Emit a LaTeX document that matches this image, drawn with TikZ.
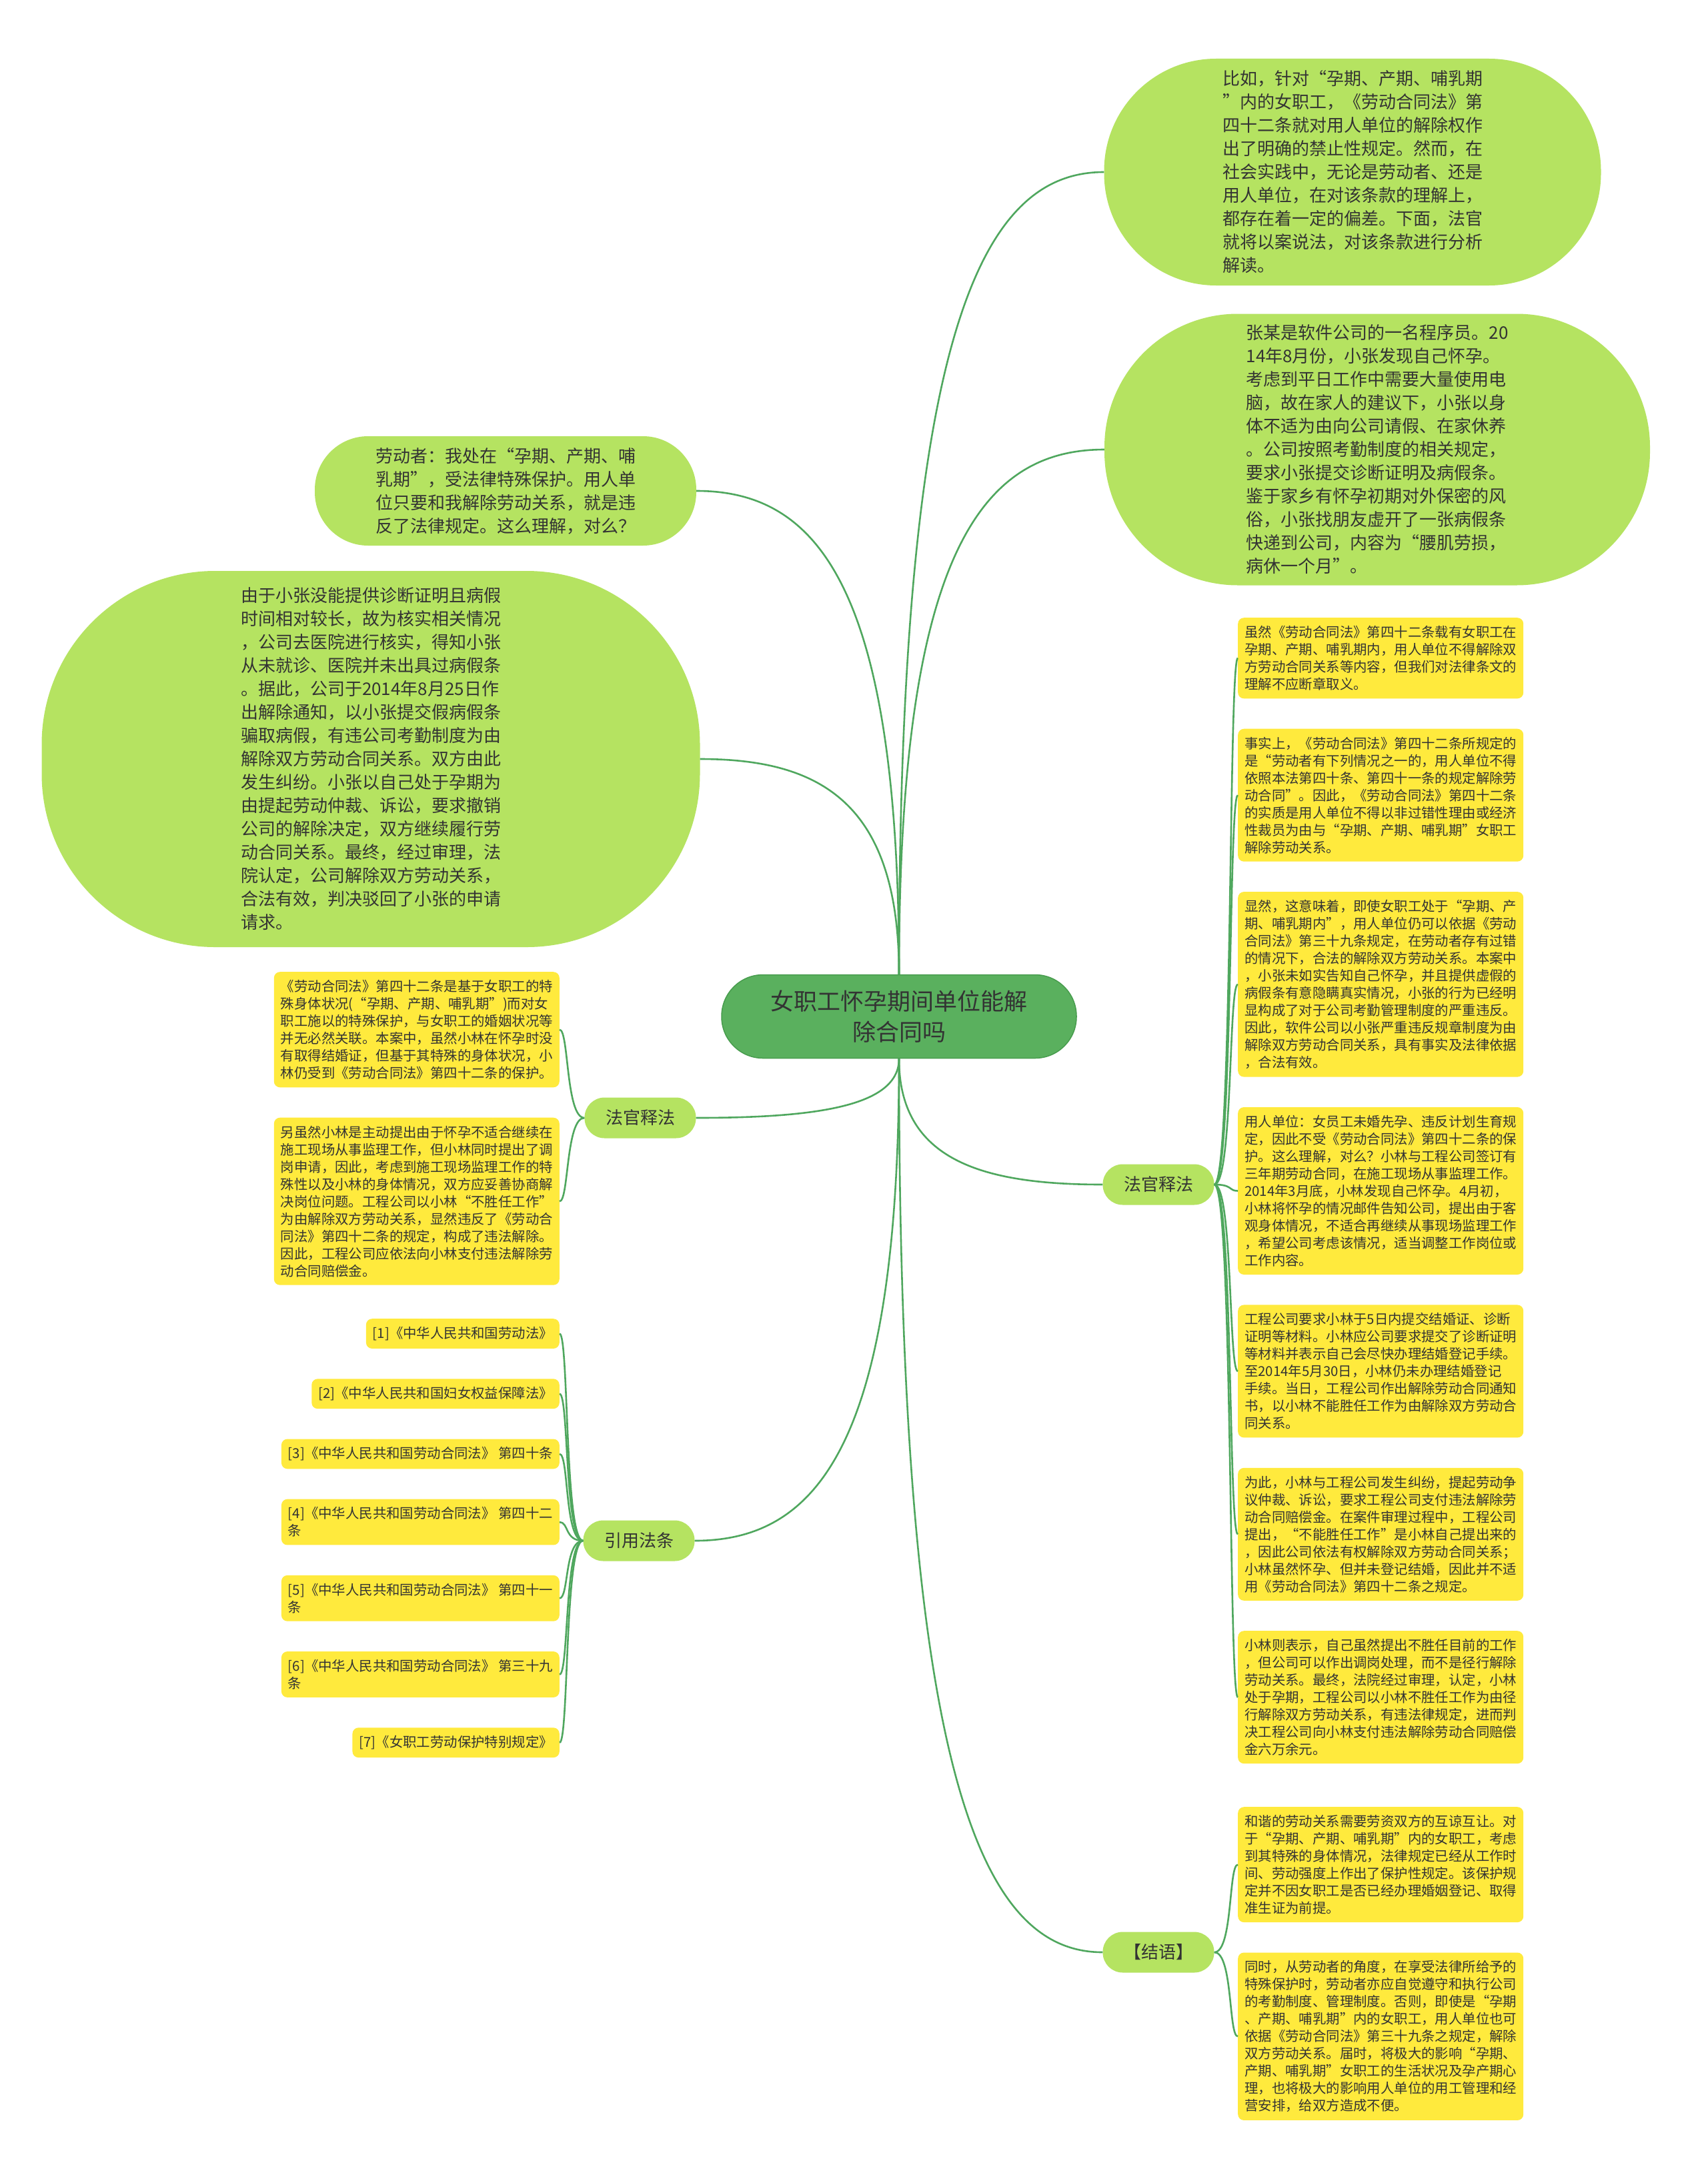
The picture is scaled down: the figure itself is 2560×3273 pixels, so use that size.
\documentclass[tikz,border=0pt]{standalone}
\usepackage{fontspec}
\setmainfont{Noto Sans CJK SC}
\usepackage{xcolor}
\definecolor{leaf}{HTML}{B5E361}
\definecolor{lemon}{HTML}{FFEA3D}
\definecolor{moss}{HTML}{5AB05E}
\definecolor{mossdark}{HTML}{479C4D}
\definecolor{stem}{HTML}{4FA75E}
\definecolor{ink}{HTML}{333333}
\usepackage{tikz}
\usetikzlibrary{positioning, calc}

\begin{document}
\begin{tikzpicture}[
  x=1pt, y=-1pt,
  every node/.style={text=ink, inner sep=0pt},
  bubble/.style={fill=leaf, align=left, font=\fontsize{26}{35}\selectfont},
  topic/.style={fill=leaf, rounded corners=30pt, minimum width=167pt, minimum height=61pt, font=\fontsize{26}{32}\selectfont},
  note/.style={fill=lemon, rounded corners=9pt, align=left, inner xsep=10pt, inner ysep=12pt, text width=408pt, font=\fontsize{20.4}{26}\selectfont},
  cite/.style={fill=lemon, rounded corners=9pt, align=left, inner xsep=10pt, inner ysep=12pt, font=\fontsize{20.4}{26}\selectfont},
  branch/.style={to path={.. controls ($(\tikztostart)!0.8!(\tikztostart|-\tikztotarget)$) and ($(\tikztotarget)!0.6!(\tikztostart|-\tikztotarget)$) .. (\tikztotarget)}},
  twigR/.style={to path={.. controls +(28,0) and +(-14,0) .. (\tikztotarget)}},
  twigL/.style={to path={.. controls +(-28,0) and +(14,0) .. (\tikztotarget)}},
  link/.style={draw=stem, line width=2.6pt},
]
\useasboundingbox[fill=white] (0,0) rectangle (2560,3273);

% Root
\node[fill=moss, draw=mossdark, line width=1.5pt, rounded corners=62pt, minimum width=532pt, minimum height=125pt, align=center, font=\fontsize{35}{46}\selectfont] (root) at (1348,1524) {女职工怀孕期间单位能解\\除合同吗};

% Bubbles
\node[bubble, rounded corners=168pt, minimum width=745pt, minimum height=340pt] (intro) at (2028,258) {比如，针对“孕期、产期、哺乳期\\”内的女职工，《劳动合同法》第\\四十二条就对用人单位的解除权作\\出了明确的禁止性规定。然而，在\\社会实践中，无论是劳动者、还是\\用人单位，在对该条款的理解上，\\都存在着一定的偏差。下面，法官\\就将以案说法，对该条款进行分析\\解读。};
\node[bubble, rounded corners=200pt, minimum width=818pt, minimum height=407pt] (story) at (2065,674) {张某是软件公司的一名程序员。20\\14年8月份，小张发现自己怀孕。\\考虑到平日工作中需要大量使用电\\脑，故在家人的建议下，小张以身\\体不适为由向公司请假、在家休养\\。公司按照考勤制度的相关规定，\\要求小张提交诊断证明及病假条。\\鉴于家乡有怀孕初期对外保密的风\\俗，小张找朋友虚开了一张病假条\\快递到公司，内容为“腰肌劳损，\\病休一个月”。};
\node[bubble, rounded corners=80pt, minimum width=572pt, minimum height=164pt] (ask) at (758,736) {劳动者：我处在“孕期、产期、哺\\乳期”，受法律特殊保护。用人单\\位只要和我解除劳动关系，就是违\\反了法律规定。这么理解，对么？};
\node[bubble, rounded corners=260pt, minimum width=987pt, minimum height=564pt] (case) at (556,1138) {由于小张没能提供诊断证明且病假\\时间相对较长，故为核实相关情况\\，公司去医院进行核实，得知小张\\从未就诊、医院并未出具过病假条\\。据此，公司于2014年8月25日作\\出解除通知，以小张提交假病假条\\骗取病假，有违公司考勤制度为由\\解除双方劳动合同关系。双方由此\\发生纠纷。小张以自己处于孕期为\\由提起劳动仲裁、诉讼，要求撤销\\公司的解除决定，双方继续履行劳\\动合同关系。最终，经过审理，法\\院认定，公司解除双方劳动关系，\\合法有效，判决驳回了小张的申请\\请求。};

% Topics
\node[topic] (judgeL) at (960,1676) {法官释法};
\node[topic] (judgeR) at (1737,1776) {法官释法};
\node[topic] (refs) at (958,2310) {引用法条};
\node[topic] (close) at (1737,2927) {【结语】};

% Left notes
\node[note, anchor=north east] (jl1) at (839,1457) {《劳动合同法》第四十二条是基于女职工的特\\殊身体状况(“孕期、产期、哺乳期”)而对女\\职工施以的特殊保护，与女职工的婚姻状况等\\并无必然关联。本案中，虽然小林在怀孕时没\\有取得结婚证，但基于其特殊的身体状况，小\\林仍受到《劳动合同法》第四十二条的保护。};
\node[note, below=45pt of jl1] (jl2) {另虽然小林是主动提出由于怀孕不适合继续在\\施工现场从事监理工作，但小林同时提出了调\\岗申请，因此，考虑到施工现场监理工作的特\\殊性以及小林的身体情况，双方应妥善协商解\\决岗位问题。工程公司以小林“不胜任工作”\\为由解除双方劳动关系，显然违反了《劳动合\\同法》第四十二条的规定，构成了违法解除。\\因此，工程公司应依法向小林支付违法解除劳\\动合同赔偿金。};

% References
\node[cite, anchor=north east] (rf1) at (839,1977) {[1]《中华人民共和国劳动法》};
\node[cite, below=45pt of rf1.south east, anchor=north east] (rf2) {[2]《中华人民共和国妇女权益保障法》};
\node[cite, below=45pt of rf2.south east, anchor=north east] (rf3) {[3]《中华人民共和国劳动合同法》 第四十条};
\node[cite, below=45pt of rf3.south east, anchor=north east] (rf4) {[4]《中华人民共和国劳动合同法》 第四十二\\条};
\node[cite, below=45pt of rf4.south east, anchor=north east] (rf5) {[5]《中华人民共和国劳动合同法》 第四十一\\条};
\node[cite, below=45pt of rf5.south east, anchor=north east] (rf6) {[6]《中华人民共和国劳动合同法》 第三十九\\条};
\node[cite, below=45pt of rf6.south east, anchor=north east] (rf7) {[7]《女职工劳动保护特别规定》};

% Right notes
\node[note, anchor=north west] (jr1) at (1856,926) {虽然《劳动合同法》第四十二条载有女职工在\\孕期、产期、哺乳期内，用人单位不得解除双\\方劳动合同关系等内容，但我们对法律条文的\\理解不应断章取义。};
\node[note, below=45pt of jr1] (jr2) {事实上，《劳动合同法》第四十二条所规定的\\是“劳动者有下列情况之一的，用人单位不得\\依照本法第四十条、第四十一条的规定解除劳\\动合同”。因此，《劳动合同法》第四十二条\\的实质是用人单位不得以非过错性理由或经济\\性裁员为由与“孕期、产期、哺乳期”女职工\\解除劳动关系。};
\node[note, below=45pt of jr2] (jr3) {显然，这意味着，即使女职工处于“孕期、产\\期、哺乳期内”，用人单位仍可以依据《劳动\\合同法》第三十九条规定，在劳动者存有过错\\的情况下，合法的解除双方劳动关系。本案中\\，小张未如实告知自己怀孕，并且提供虚假的\\病假条有意隐瞒真实情况，小张的行为已经明\\显构成了对于公司考勤管理制度的严重违反。\\因此，软件公司以小张严重违反规章制度为由\\解除双方劳动合同关系，具有事实及法律依据\\，合法有效。};
\node[note, below=45pt of jr3] (jr4) {用人单位：女员工未婚先孕、违反计划生育规\\定，因此不受《劳动合同法》第四十二条的保\\护。这么理解，对么？小林与工程公司签订有\\三年期劳动合同，在施工现场从事监理工作。\\2014年3月底，小林发现自己怀孕。4月初，\\小林将怀孕的情况邮件告知公司，提出由于客\\观身体情况，不适合再继续从事现场监理工作\\，希望公司考虑该情况，适当调整工作岗位或\\工作内容。};
\node[note, below=45pt of jr4] (jr5) {工程公司要求小林于5日内提交结婚证、诊断\\证明等材料。小林应公司要求提交了诊断证明\\等材料并表示自己会尽快办理结婚登记手续。\\至2014年5月30日，小林仍未办理结婚登记\\手续。当日，工程公司作出解除劳动合同通知\\书，以小林不能胜任工作为由解除双方劳动合\\同关系。};
\node[note, below=45pt of jr5] (jr6) {为此，小林与工程公司发生纠纷，提起劳动争\\议仲裁、诉讼，要求工程公司支付违法解除劳\\动合同赔偿金。在案件审理过程中，工程公司\\提出，“不能胜任工作”是小林自己提出来的\\，因此公司依法有权解除双方劳动合同关系；\\小林虽然怀孕、但并未登记结婚，因此并不适\\用《劳动合同法》第四十二条之规定。};
\node[note, below=45pt of jr6] (jr7) {小林则表示，自己虽然提出不胜任目前的工作\\，但公司可以作出调岗处理，而不是径行解除\\劳动关系。最终，法院经过审理，认定，小林\\处于孕期，工程公司以小林不胜任工作为由径\\行解除双方劳动关系，有违法律规定，进而判\\决工程公司向小林支付违法解除劳动合同赔偿\\金六万余元。};

% Closing notes
\node[note, anchor=north west] (cl1) at (1856,2709) {和谐的劳动关系需要劳资双方的互谅互让。对\\于“孕期、产期、哺乳期”内的女职工，考虑\\到其特殊的身体情况，法律规定已经从工作时\\间、劳动强度上作出了保护性规定。该保护规\\定并不因女职工是否已经办理婚姻登记、取得\\准生证为前提。};
\node[note, below=45pt of cl1] (cl2) {同时，从劳动者的角度，在享受法律所给予的\\特殊保护时，劳动者亦应自觉遵守和执行公司\\的考勤制度、管理制度。否则，即使是“孕期\\、产期、哺乳期”内的女职工，用人单位也可\\依据《劳动合同法》第三十九条之规定，解除\\双方劳动关系。届时，将极大的影响“孕期、\\产期、哺乳期”女职工的生活状况及孕产期心\\理，也将极大的影响用人单位的用工管理和经\\营安排，给双方造成不便。};

% Branches
\draw[link] (root.north) to[branch] (intro.west);
\draw[link] (root.north) to[branch] (story.west);
\draw[link] (root.north) to[branch] (ask.east);
\draw[link] (root.north) to[branch] (case.east);
\draw[link] (root.south) to[branch] (judgeL.east);
\draw[link] (root.south) to[branch] (judgeR.west);
\draw[link] (root.south) to[branch] (refs.east);
\draw[link] (root.south) to[branch] (close.west);

% Twigs
\foreach \i in {1,2} \draw[link] (judgeL.west) to[twigL] (jl\i.east);
\foreach \i in {1,...,7} \draw[link] (refs.west) to[twigL] (rf\i.east);
\foreach \i in {1,...,7} \draw[link] (judgeR.east) to[twigR] (jr\i.west);
\foreach \i in {1,2} \draw[link] (close.east) to[twigR] (cl\i.west);

\end{tikzpicture}
\end{document}
